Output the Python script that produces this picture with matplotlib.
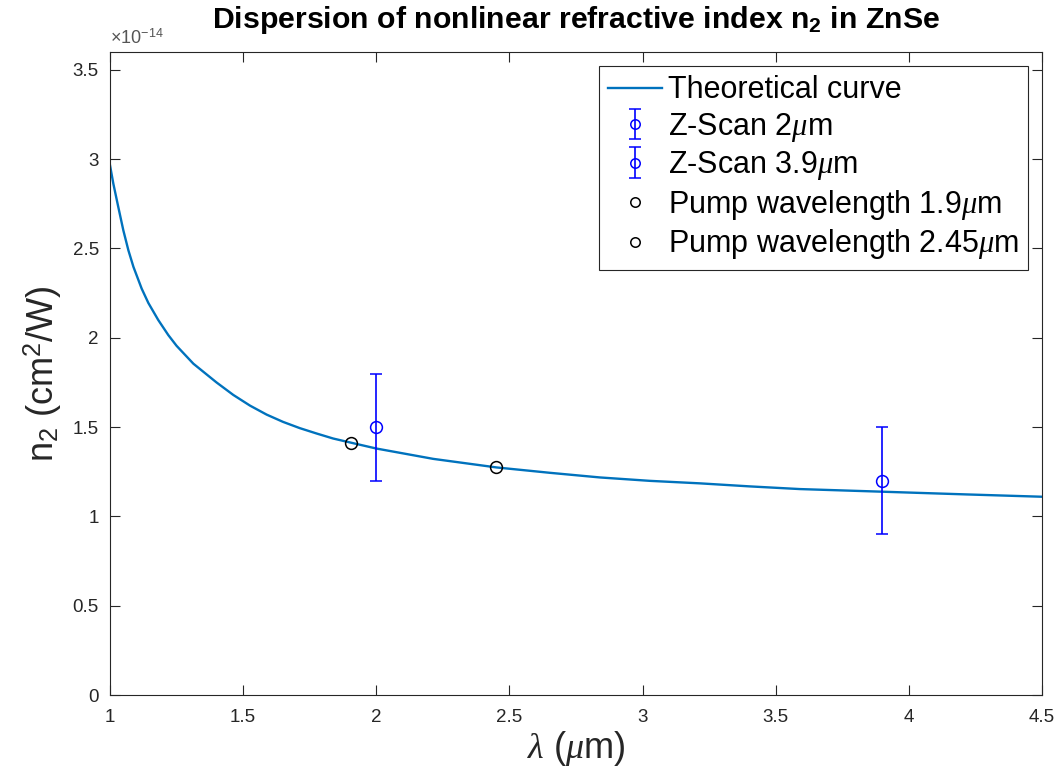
import matplotlib
matplotlib.use("Agg")
import matplotlib.pyplot as plt

# ---- data (y values in units of 1e-14 cm^2/W) ----
curve_x = [1.0, 1.0125, 1.031, 1.050, 1.069, 1.088, 1.119, 1.144, 1.181, 1.219,
           1.25, 1.313, 1.40, 1.463, 1.526, 1.588, 1.65, 1.713, 1.776, 1.838,
           1.907, 2.0, 2.214, 2.452, 2.652, 2.84, 3.027, 3.215, 3.402, 3.59, 3.905,
           4.216, 4.5]
curve_y = [2.966, 2.863, 2.733, 2.602, 2.490, 2.397, 2.275, 2.195, 2.100, 2.015,
           1.955, 1.855, 1.750, 1.680, 1.620, 1.570, 1.529, 1.494, 1.464, 1.436,
           1.412, 1.380, 1.322, 1.274, 1.244, 1.218, 1.199, 1.185, 1.168, 1.153, 1.138,
           1.123, 1.110]

zscan_x = [2.0, 3.9]
zscan_y = [1.5, 1.2]
zscan_err = [0.3, 0.3]
zscan_labels = [r"Z-Scan 2$\mu$m", r"Z-Scan 3.9$\mu$m"]

pump_x = [1.905, 2.45]
pump_y = [1.413, 1.276]
pump_labels = [r"Pump wavelength 1.9$\mu$m", r"Pump wavelength 2.45$\mu$m"]

x_ticks = [1, 1.5, 2, 2.5, 3, 3.5, 4, 4.5]
y_ticks = [0, 0.5, 1, 1.5, 2, 2.5, 3, 3.5]
x_tick_labels = ["1", "1.5", "2", "2.5", "3", "3.5", "4", "4.5"]
y_tick_labels = ["0", "0.5", "1", "1.5", "2", "2.5", "3", "3.5"]

plt.rcParams['font.family'] = ['Liberation Sans', 'DejaVu Sans']
plt.rcParams['mathtext.fontset'] = 'custom'
plt.rcParams['mathtext.rm'] = 'Liberation Sans'
plt.rcParams['mathtext.it'] = 'Liberation Serif:italic'
plt.rcParams['mathtext.bf'] = 'Liberation Sans:bold'

axc = '#262626'
fig = plt.figure(figsize=(10.58, 7.73), dpi=100)
ax = fig.add_axes([110/1058, 1-695/773, 932/1058, 643/773])

handles = []
h_curve, = ax.plot(curve_x, curve_y, color='#0072BD', lw=1.7, label='Theoretical curve', zorder=2)
handles.append(h_curve)
for xv, yv, ev, lab in zip(zscan_x, zscan_y, zscan_err, zscan_labels):
    h = ax.errorbar([xv], [yv], yerr=[ev], fmt='o', color='blue', mfc='none', mec='blue',
                    ms=8.5, mew=1.1, elinewidth=1.2, capsize=4, capthick=1.2, label=lab, zorder=3)
    handles.append(h)
for xv, yv, lab in zip(pump_x, pump_y, pump_labels):
    h, = ax.plot([xv], [yv], 'o', mfc='none', mec='black', ms=8.5, mew=1.1, label=lab, zorder=4)
    handles.append(h)

ax.set_xlim(1, 4.5)
ax.set_ylim(0, 3.6)
ax.set_xticks(x_ticks)
ax.set_xticklabels(x_tick_labels)
ax.set_yticks(y_ticks)
ax.set_yticklabels(y_tick_labels)
ax.tick_params(direction='in', length=7, width=0.8, colors=axc, labelsize=13.5,
               top=True, right=True, labelcolor=axc)
ax.tick_params(axis='x', pad=10)
ax.tick_params(axis='y', pad=8)
for s in ax.spines.values():
    s.set_color(axc)
    s.set_linewidth(0.8)

ax.text(0.0, 1.006, "×10$^{\\mathrm{-14}}$", transform=ax.transAxes, color='#555555',
        fontsize=13, ha='left', va='bottom')

ax.set_xlabel(r"$\lambda$ ($\mu$m)", fontsize=26, color=axc, labelpad=2)
ax.set_ylabel(r"n$_\mathrm{2}$ (cm$^\mathrm{2}$/W)", fontsize=26, color=axc, labelpad=6)
ax.set_title(r"Dispersion of nonlinear refractive index n$_\mathbf{2}$ in ZnSe",
             fontsize=21.8, fontweight='bold', pad=17)

leg = ax.legend(handles=handles, loc='upper right', bbox_to_anchor=(0.985, 0.978),
                borderaxespad=0, fontsize=22, fancybox=False, framealpha=1, edgecolor=axc,
                handlelength=1.75, handletextpad=0.2, labelspacing=0.18, borderpad=0.3,
                markerscale=0.8)
leg.get_frame().set_linewidth(0.8)

fig.savefig("out.png", dpi=100)
